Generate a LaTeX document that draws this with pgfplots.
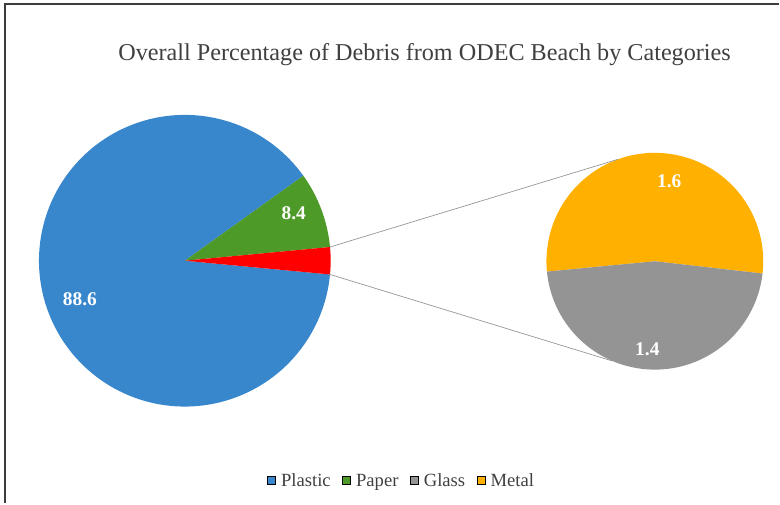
\documentclass[border=0pt]{standalone}
\usepackage{pgfplots}
\pgfplotsset{compat=1.18}
\usepackage{pgfplotstable}
\usepackage{fontspec}
\setmainfont{Liberation Serif}

\definecolor{plasticblue}{RGB}{56,134,204}
\definecolor{papergreen}{RGB}{78,154,40}
\definecolor{otherred}{RGB}{255,0,0}
\definecolor{glassgray}{RGB}{148,148,148}
\definecolor{metalorange}{RGB}{255,176,0}
\definecolor{textgray}{RGB}{64,64,64}
\definecolor{framegray}{RGB}{60,60,60}
\definecolor{linkgray}{RGB}{150,150,150}

% Percentage of debris by category
\pgfplotstableread{
category value
Plastic  88.6
Paper    8.4
Glass    1.4
Metal    1.6
}\debris

% one pie slice: colour, centre x, centre y, radius, start angle, end angle
\newcommand\pieslice[6]{%
  \addplot[forget plot, draw=none, fill=#1, domain=#5:#6, samples=150]
    ({#2+#4*cos(x)},{#3+#4*sin(x)}) -- (axis cs:#2,#3) -- cycle;
}

\begin{document}
\begin{tikzpicture}
\pgfplotstablegetelem{0}{value}\of\debris \let\vPlastic\pgfplotsretval
\pgfplotstablegetelem{1}{value}\of\debris \let\vPaper\pgfplotsretval
\pgfplotstablegetelem{2}{value}\of\debris \let\vGlass\pgfplotsretval
\pgfplotstablegetelem{3}{value}\of\debris \let\vMetal\pgfplotsretval
\pgfmathsetmacro\vOther{\vGlass+\vMetal}

% main pie (1 unit = 1bp)
\def\cx{185}\def\cy{243}\def\R{146}
% secondary pie
\def\sx{655.5}\def\sy{242.5}\def\Rs{108.5}

% main pie angles: the combined "other" slice is centred on 0 degrees
\pgfmathsetmacro\aO{\vOther*3.6/2}
\pgfmathsetmacro\aPaper{\aO+\vPaper*3.6}
\pgfmathsetmacro\aPlastic{\aPaper+\vPlastic*3.6}
% secondary pie angles
\def\bStart{-6.5}
\pgfmathsetmacro\bMetal{\bStart+\vMetal/\vOther*360}
\pgfmathsetmacro\bGlass{\bMetal+\vGlass/\vOther*360}

% connector end points
\pgfmathsetmacro\xa{\cx+\R*cos(\aO)}
\pgfmathsetmacro\ya{\cy+\R*sin(\aO)}
\pgfmathsetmacro\xb{\sx+\Rs*cos(110)}
\pgfmathsetmacro\yb{\sy+\Rs*sin(110)}
\pgfmathsetmacro\xc{\cx+\R*cos(-\aO)}
\pgfmathsetmacro\yc{\cy+\R*sin(-\aO)}
\pgfmathsetmacro\xd{\sx+\Rs*cos(247)}
\pgfmathsetmacro\yd{\sy+\Rs*sin(247)}

\begin{axis}[
  scale only axis, width=780bp, height=504bp,
  xmin=0, xmax=780, ymin=0, ymax=504,
  hide axis, clip=false,
  legend columns=4,
  legend style={
    at={(axis cs:401,22.4)}, anchor=center,
    draw=none, fill=none,
    font=\fontsize{18.7}{20}\selectfont, text=textgray,
    nodes={inner sep=0pt},
    /tikz/every odd column/.append style={column sep=5.5bp},
    /tikz/every even column/.append style={column sep=11.5bp},
  },
  legend image code/.code={\fill[#1] (0bp,-2.7bp) rectangle (8bp,4.6bp);},
]
\path (axis cs:0,0) rectangle (axis cs:780,504);

% main pie
\pieslice{plasticblue}{\cx}{\cy}{\R}{\aPaper}{\aPlastic}
\pieslice{papergreen}{\cx}{\cy}{\R}{\aO}{\aPaper}
\pieslice{otherred}{\cx}{\cy}{\R}{-\aO}{\aO}

% secondary pie
\pieslice{metalorange}{\sx}{\sy}{\Rs}{\bStart}{\bMetal}
\pieslice{glassgray}{\sx}{\sy}{\Rs}{\bMetal}{\bGlass}

% connector lines
\addplot[forget plot, draw=linkgray, line width=0.7bp, domain=0:1, samples=2]
  ({\xa+(\xb-\xa)*x},{\ya+(\yb-\ya)*x});
\addplot[forget plot, draw=linkgray, line width=0.7bp, domain=0:1, samples=2]
  ({\xc+(\xd-\xc)*x},{\yc+(\yd-\yc)*x});

% data labels
\begin{scope}[every node/.style={text=white, font=\fontsize{19.5}{20}\selectfont\bfseries}]
\node at (axis cs:80,205) {\vPlastic};
\node at (axis cs:294,291) {\vPaper};
\node at (axis cs:670,323) {\vMetal};
\node at (axis cs:648,154) {\vGlass};
\end{scope}

% title
\node[anchor=base, text=textgray, font=\fontsize{24.3}{28}\selectfont]
  at (axis cs:425,443) {Overall Percentage of Debris from ODEC Beach by Categories};

% frame
\draw[framegray, line width=1.6bp] (axis cs:780,500) -- (axis cs:5,500) -- (axis cs:5,0);

\addlegendimage{fill=plasticblue}\addlegendentry{Plastic}
\addlegendimage{fill=papergreen}\addlegendentry{Paper}
\addlegendimage{fill=glassgray}\addlegendentry{Glass}
\addlegendimage{fill=metalorange}\addlegendentry{Metal}
\end{axis}
\end{tikzpicture}
\end{document}
